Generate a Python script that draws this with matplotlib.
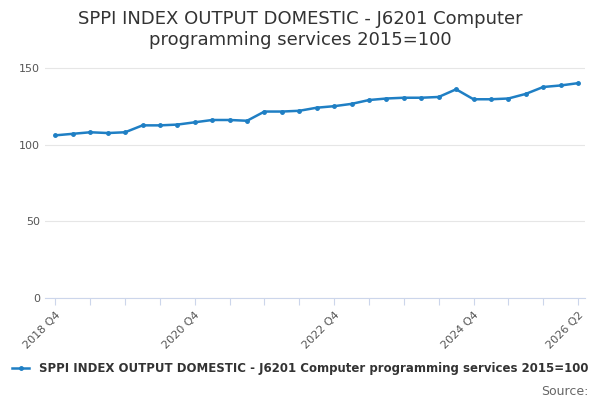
import matplotlib
matplotlib.use("Agg")
import matplotlib.pyplot as plt

quarters = []
for y in range(2018, 2027):
    for q in range(1, 5):
        if (y, q) >= (2018, 4) and (y, q) <= (2026, 2):
            quarters.append(f"{y} Q{q}")
values = [106, 107, 108, 107.5, 108, 112.5, 112.5, 113, 114.5, 116, 116, 115.5,
          121.5, 121.5, 122, 124, 125, 126.5, 129, 130, 130.5, 130.5, 131, 136,
          129.5, 129.5, 130, 133, 137.5, 138.5, 140]
tick_labels = ["2018 Q4", "2020 Q4", "2022 Q4", "2024 Q4", "2026 Q2"]
name = "SPPI INDEX OUTPUT DOMESTIC - J6201 Computer programming services 2015=100"

fig = plt.figure(figsize=(6, 4), dpi=100)
ax = fig.add_axes([0.075, 0.255, 0.9, 0.61])
x = list(range(len(values)))
ax.plot(x, values, color="#1f7fc4", lw=1.8, marker="o", ms=2.5, label=name)
ax.set_ylim(0, 159)
ax.set_yticks([0, 50, 100, 150])
ax.set_xlim(-0.6, len(values) - 0.6)
pos = list(range(0, len(values), 2))
ax.set_xticks(pos)
ax.set_xticklabels([quarters[p] if quarters[p] in tick_labels else "" for p in pos],
                   rotation=45, ha="right", rotation_mode="anchor", color="#555555", fontsize=8)
ax.tick_params(axis="x", length=5, color="#ccd6eb")
ax.tick_params(axis="y", length=0, labelsize=8, labelcolor="#555555")
ax.grid(axis="y", color="#e6e6e6", lw=0.8)
for s in ["top", "right", "left"]:
    ax.spines[s].set_visible(False)
ax.spines["bottom"].set_color("#ccd6eb")
fig.suptitle("SPPI INDEX OUTPUT DOMESTIC - J6201 Computer\nprogramming services 2015=100",
             fontsize=13, color="#333333", y=0.975)
leg = fig.legend(loc="lower center", bbox_to_anchor=(0.5, 0.035), frameon=False,
                 prop={"size": 8.5, "weight": "bold"}, handlelength=1.5)
for t in leg.get_texts():
    t.set_color("#333333")
fig.text(0.98, 0.012, "Source:", ha="right", fontsize=9, color="#666666")
fig.savefig("out.png")
